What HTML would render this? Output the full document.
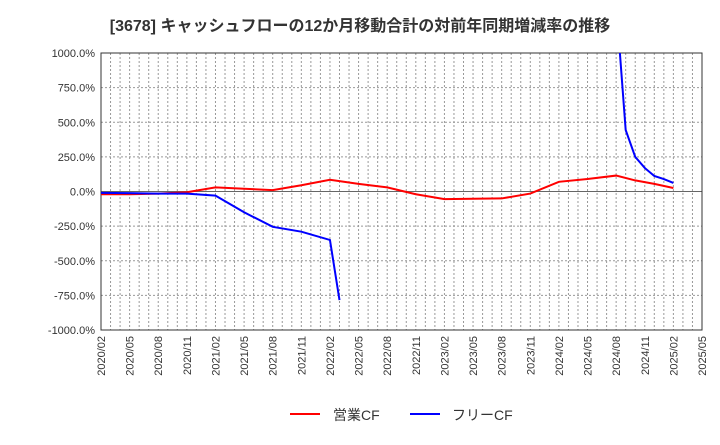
<!DOCTYPE html>
<html><head><meta charset="utf-8"><style>
body{margin:0;background:#fff;}
svg text{font-family:"Liberation Sans","Noto Sans CJK JP",sans-serif;}
</style></head><body>
<svg id="chart" width="720" height="440" xmlns="http://www.w3.org/2000/svg">
<text x="360" y="31" text-anchor="middle" font-size="16" font-weight="bold" fill="#333">[3678]  キャッシュフローの12か月移動合計の対前年同期増減率の推移</text>
<g id="grid"></g><g id="axes"></g>
<defs><clipPath id="clip"><rect x="101" y="53" width="601" height="277"/></clipPath></defs>
<g id="series" clip-path="url(#clip)"></g>
<g>
<line x1="290" y1="414" x2="320" y2="414" stroke="#ff0000" stroke-width="2"/>
<text x="333" y="420" font-size="14" fill="#333">営業CF</text>
<line x1="410" y1="414" x2="440" y2="414" stroke="#0000ff" stroke-width="2"/>
<text x="452" y="420" font-size="14" fill="#333">フリーCF</text>
</g>
</svg>
<script>
const xLabels=["2020/02","2020/05","2020/08","2020/11","2021/02","2021/05","2021/08","2021/11","2022/02","2022/05","2022/08","2022/11","2023/02","2023/05","2023/08","2023/11","2024/02","2024/05","2024/08","2024/11","2025/02","2025/05"];
const yTicks=[-1000,-750,-500,-250,0,250,500,750,1000];
const opMonths=[0,3,6,9,12,15,18,21,24,27,30,33,36,39,42,45,48,51,54,56,58,60];
const opValues=[-20,-20,-15,-5,30,20,10,45,85,55,30,-20,-55,-52,-50,-15,70,90,115,80,55,25];
const fcfMonths1=[0,3,6,9,12,15,18,21,24,25];
const fcfValues1=[-10,-12,-15,-15,-30,-150,-255,-290,-350,-784];
const fcfMonths2=[54,55,56,57,58,59,60];
const fcfValues2=[1360,444,250,170,112,90,62];
const L=101,R=702,T=53,B=330,NM=63;
const xs=m=>L+(R-L)*m/NM;
const ys=v=>B-(B-T)*(v+1000)/2000;
const NS="http://www.w3.org/2000/svg";
function mk(tag,attrs,parent){const e=document.createElementNS(NS,tag);for(const k in attrs)e.setAttribute(k,attrs[k]);parent.appendChild(e);return e;}
const grid=document.getElementById('grid'),axes=document.getElementById('axes'),ser=document.getElementById('series');
for(let m=1;m<NM;m++){const l=mk('line',{x1:xs(m),x2:xs(m),y1:T,y2:B,stroke:'#999','stroke-dasharray':'2,2','stroke-width':1},grid);

}
yTicks.forEach(v=>{const l=mk('line',{x1:L,x2:R,y1:ys(v),y2:ys(v),stroke:v===0?'#666':'#999','stroke-dasharray':v===0?'':'2,2','stroke-width':1},grid);


const t=mk('text',{x:L-6,y:ys(v)+4,'text-anchor':'end','font-size':11,fill:'#333'},axes);t.textContent=v.toFixed(1)+'%';

});
xLabels.forEach((s,i)=>{const x=xs(i*3);const t=mk('text',{x:x+4,y:B+6,'text-anchor':'end','font-size':11,fill:'#333',transform:`rotate(-90 ${x+4} ${B+6})`},axes);t.textContent=s;

});
const fr=mk('rect',{x:L,y:T,width:R-L,height:B-T,fill:'none',stroke:'#333','stroke-width':1},axes);


function line(ms,vs,c,name){const p=mk('polyline',{points:ms.map((m,i)=>xs(m)+','+ys(vs[i])).join(' '),fill:'none',stroke:c,'stroke-width':2},ser);

}
line(opMonths,opValues,'#ff0000','operating-cf-line');
line(fcfMonths1,fcfValues1,'#0000ff','free-cf-line-1');
line(fcfMonths2,fcfValues2,'#0000ff','free-cf-line-2');
</script>
</body></html>
